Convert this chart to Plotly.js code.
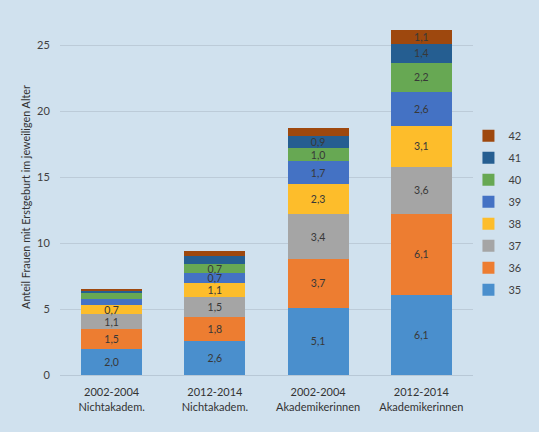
<!DOCTYPE html>
<html><head><meta charset="utf-8">
<script src="https://cdn.plot.ly/plotly-3.0.1.min.js"></script>
<style>html,body{margin:0;padding:0;background:#d0e1ee;}</style>
</head><body>
<div id="chart" style="width:539px;height:432px;"></div>
<script>
var categories = ["2002-2004<br>Nichtakadem.", "2012-2014<br>Nichtakadem.", "2002-2004<br>Akademikerinnen", "2012-2014<br>Akademikerinnen"];
var ages = ["35", "36", "37", "38", "39", "40", "41", "42"];
var v35 = [2.0, 2.6, 5.1, 6.1];
var v36 = [1.5, 1.8, 3.7, 6.1];
var v37 = [1.1, 1.5, 3.4, 3.6];
var v38 = [0.7, 1.1, 2.3, 3.1];
var v39 = [0.5, 0.7, 1.7, 2.6];
var v40 = [0.4, 0.7, 1.0, 2.2];
var v41 = [0.15, 0.6, 0.9, 1.4];
var v42 = [0.15, 0.4, 0.6, 1.1];
var colors = ["#4a8fcd", "#ed7d31", "#a5a5a5", "#fdbd2b", "#4472c4", "#67a853", "#255e91", "#9e480e"];
var series = [v35, v36, v37, v38, v39, v40, v41, v42];

var traces = series.map(function (vals, i) {
  return {
    type: "bar",
    name: ages[i],
    legendgroup: "g" + i,
    legendrank: 100 - i,
    x: categories,
    y: vals,
    marker: {color: colors[i], line: {width: 0}},
    text: vals.map(function (v) { return v >= 0.7 ? v.toFixed(1).replace(".", ",") : ""; }),
    textposition: "inside",
    insidetextanchor: "middle",
    textangle: 0,
    constraintext: "none",
    textfont: {family: "Lato, 'Open Sans', sans-serif", size: 10.5, color: "#383838"},
    hoverinfo: "skip"
  };
});

var layout = {
  width: 539, height: 432,
  paper_bgcolor: "#d0e1ee", plot_bgcolor: "#d0e1ee",
  barmode: "stack",
  bargap: 0.41,
  margin: {l: 60, r: 62, t: 19, b: 57},
  font: {family: "Lato, 'Open Sans', sans-serif", size: 11, color: "#404040"},
  showlegend: true,
  legend: {
    x: 0.989, xanchor: "left", y: 0.456, yanchor: "middle",
    traceorder: "grouped",
    tracegroupgap: 3,
    font: {size: 11, color: "#404040"},
    itemwidth: 30,
    bgcolor: "rgba(0,0,0,0)"
  },
  xaxis: {
    showgrid: false, zeroline: false, showline: true, linecolor: "#b8c8d6", linewidth: 1,
    tickfont: {size: 11, color: "#333333"},
    ticks: "outside", ticklen: 7, tickcolor: "rgba(0,0,0,0)", fixedrange: true
  },
  yaxis: {
    range: [0, 27],
    tickvals: [0, 5, 10, 15, 20, 25],
    showgrid: true, gridcolor: "#bccbd8", gridwidth: 1,
    zeroline: false, showline: false,
    ticks: "outside", ticklen: 7, tickcolor: "rgba(0,0,0,0)",
    tickfont: {size: 11, color: "#404040"},
    title: {text: "Anteil Frauen mit Erstgeburt im jeweiligen Alter", font: {size: 10.8, color: "#333333"}, standoff: 4},
    fixedrange: true
  }
};

Plotly.newPlot("chart", traces, layout, {displayModeBar: false, staticPlot: true});
</script>
</body></html>
